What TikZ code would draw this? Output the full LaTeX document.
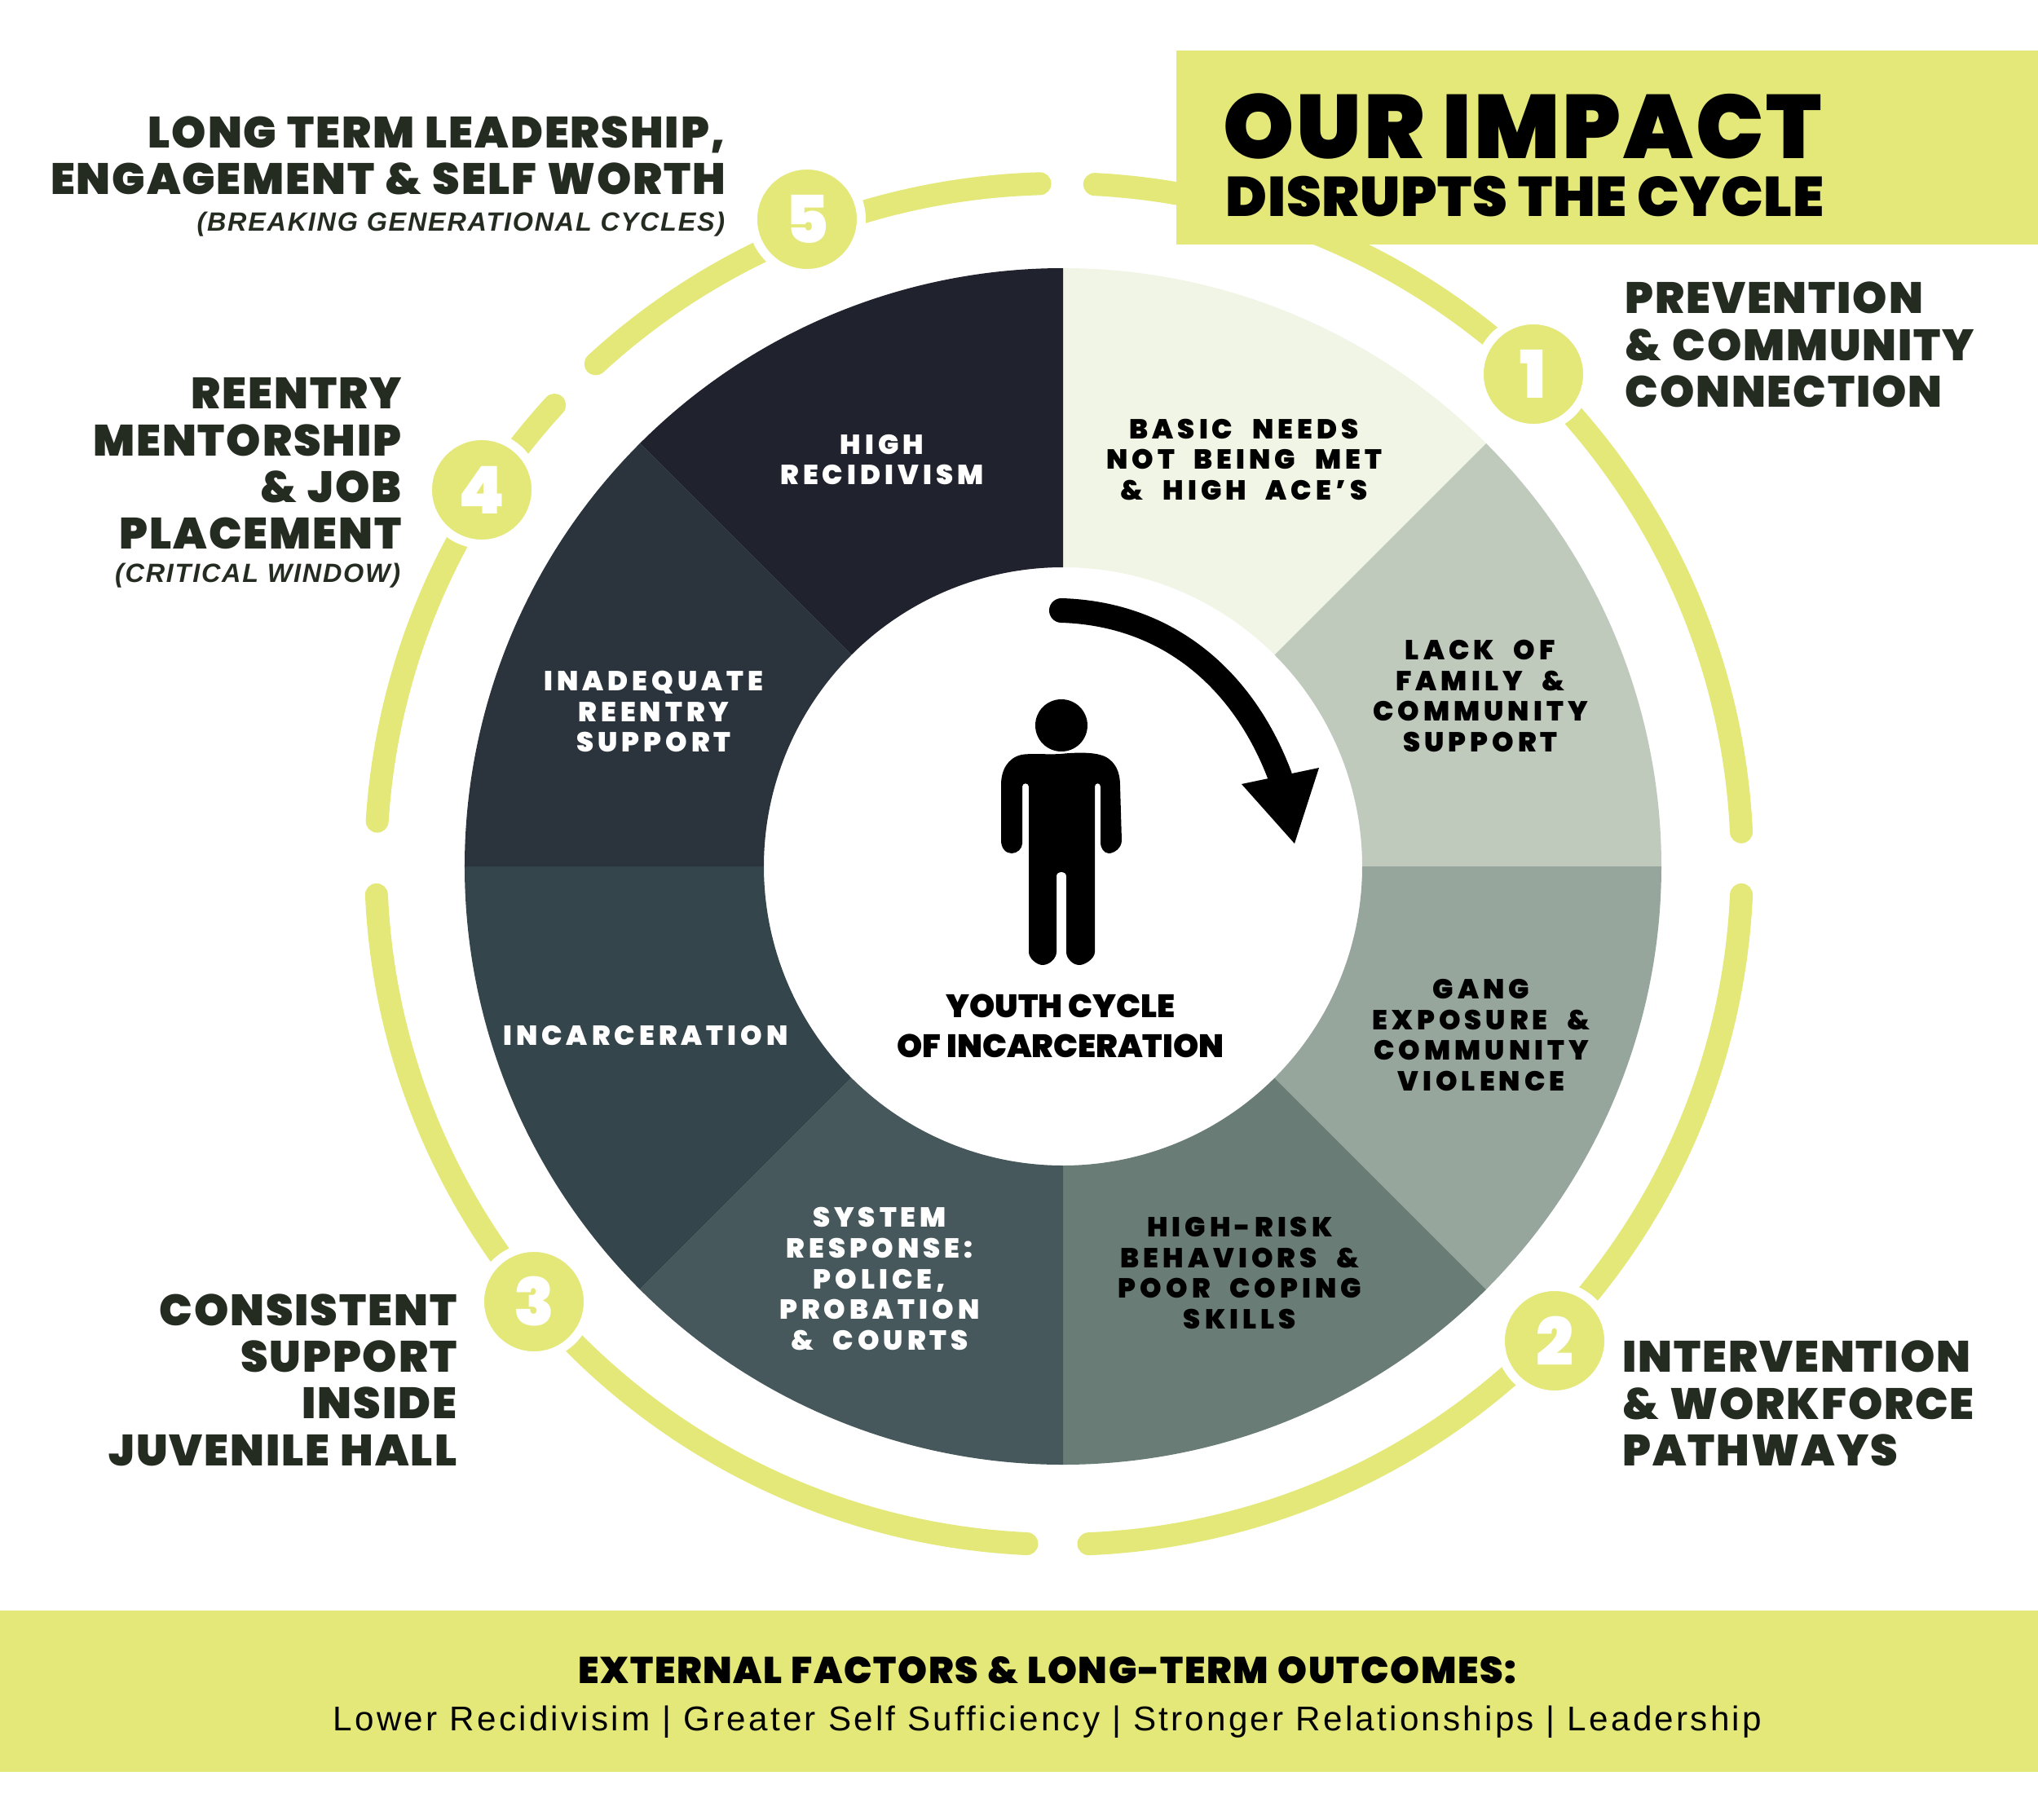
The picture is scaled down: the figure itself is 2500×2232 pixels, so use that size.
\documentclass[tikz,border=0pt]{standalone}
\usepackage{fontspec}
\setmainfont{Liberation Sans}
\newfontfamily\heavyfont{Poppins}[UprightFont=* Black]
\newfontfamily\titlefont{Poppins}[UprightFont=* Black,LetterSpace=2.7]
\newfontfamily\subtitlefont{Poppins}[UprightFont=* Black,LetterSpace=1.1]
\newfontfamily\steplabelfont{Poppins}[UprightFont=* Black,LetterSpace=3.5,WordSpace=1.2]
\newfontfamily\seglabelfont{Poppins}[UprightFont=* Black,LetterSpace=15,WordSpace=2.2]
\newfontfamily\notefont{Liberation Sans}[LetterSpace=5.5]
\newfontfamily\resultfont{Liberation Sans}[LetterSpace=7.7]
\definecolor{lime}{HTML}{E4E879}
\definecolor{ink}{HTML}{242B20}
\definecolor{segone}{HTML}{F1F5E6}
\definecolor{segtwo}{HTML}{BFCABD}
\definecolor{segthree}{HTML}{96A69C}
\definecolor{segfour}{HTML}{6A7C76}
\definecolor{segfive}{HTML}{46585C}
\definecolor{segsix}{HTML}{35454C}
\definecolor{segseven}{HTML}{2B343D}
\definecolor{segeight}{HTML}{20232E}
\tikzset{
  ringarc/.style={draw=lime,line width=0.28cm,line cap=round},
  badge/.style={circle,fill=lime,draw=white,line width=0.11cm,minimum size=1.33cm,inner sep=0pt,
    text=white,font=\heavyfont\fontsize{23}{23}\selectfont},
  seglabel/.style={align=center,inner sep=0pt,font=\seglabelfont\fontsize{9.6}{10.7}\selectfont},
  steplabel/.style={inner sep=0pt,text=ink,font=\steplabelfont\fontsize{15.3}{16.3}\selectfont},
  noteitalic/.style={inner sep=0pt,text=ink,anchor=east,font=\notefont\bfseries\itshape\fontsize{9.2}{11}\selectfont},
}
\begin{document}
\begin{tikzpicture}[x=0.01cm,y=0.01cm] % 1 unit = 1 pixel, origin at the wheel centre

% --------- PARAMETERS ----------
\def\rin{367}     % inner radius of the wheel
\def\rout{734}    % outer radius of the wheel
\def\rringx{838}  % radii of the yellow ring
\def\rringy{835}
% --------------------------------
\useasboundingbox (-1304,-1169) rectangle (1196,1063);

% Wheel
\foreach \a/\c in {90/segone,45/segtwo,0/segthree,-45/segfour,-90/segfive,-135/segsix,-180/segseven,-225/segeight}{
  \pgfmathsetmacro\b{\a-45}
  \fill[\c] (\a:\rout) arc[start angle=\a,end angle=\b,radius=\rout]
    -- (\b:\rin) arc[start angle=\b,end angle=\a,radius=\rin] -- cycle;
}

% Ring pieces
\begin{scope}[shift={(-5,3)}]
\foreach \a/\b in {87/2.7,-2.6/-87.5,-92.7/-177.4,176.4/137.6,132.7/91.6}{
  \draw[ringarc] (\a:{\rringx} and {\rringy}) arc[start angle=\a,end angle=\b,x radius=\rringx,y radius=\rringy];
}
\end{scope}

% Title and bottom bands
\fill[lime] (139,763) rectangle (1196,1001);
\fill[lime] (-1304,-913) rectangle (1196,-1111);

\node[anchor=west,inner sep=0pt,font=\titlefont\fontsize{31.5}{31.5}\selectfont] (title) at (196,908) {OUR IMPACT};
\node[anchor=west,inner sep=0pt,font=\subtitlefont\fontsize{19.5}{19.5}\selectfont] (subtitle) at (199,822) {DISRUPTS THE CYCLE};
\node[inner sep=0pt,font=\steplabelfont\fontsize{13}{13}\selectfont] (outcomes) at (-19,-986) {EXTERNAL FACTORS \& LONG-TERM OUTCOMES:};
\node[inner sep=0pt,font=\resultfont\fontsize{12}{12}\selectfont] (results) at (-19,-1050) {Lower Recidivisim | Greater Self Sufficiency | Stronger Relationships | Leadership};

% Numbered badges
\node[badge] (one) at (577,604) {1};
\node[badge] (two) at (603,-582) {2};
\node[badge] (three) at (-649,-534) {3};
\node[badge] (four) at (-713,462) {4};
\node[badge] (five) at (-314,794) {5};

% Step labels
\node[steplabel,anchor=west,align=left] (stepone) at (689,640) {PREVENTION\\\& COMMUNITY\\CONNECTION};
\node[steplabel,anchor=west,align=left] (steptwo) at (686,-659) {INTERVENTION\\\& WORKFORCE\\PATHWAYS};
\node[steplabel,anchor=east,align=right] (stepthree) at (-743,-630) {CONSISTENT\\SUPPORT\\INSIDE\\JUVENILE HALL};
\node[steplabel,anchor=east,align=right] (stepfour) at (-811,494) {REENTRY\\MENTORSHIP\\\& JOB\\PLACEMENT};
\node[noteitalic] (notefour) at (-812,357) {(CRITICAL WINDOW)};
\node[steplabel,anchor=east,align=right] (stepfive) at (-413,872) {LONG TERM LEADERSHIP,\\ENGAGEMENT \& SELF WORTH};
\node[noteitalic] (notefive) at (-414,788) {(BREAKING GENERATIONAL CYCLES)};

% Wheel labels
\node[seglabel] (needs) at (222,499) {BASIC NEEDS\\NOT BEING MET\\\& HIGH ACE’S};
\node[seglabel] (family) at (512,209) {LACK OF\\FAMILY \&\\COMMUNITY\\SUPPORT};
\node[seglabel] (gang) at (513,-207) {GANG\\EXPOSURE \&\\COMMUNITY\\VIOLENCE};
\node[seglabel] (risk) at (217,-499) {HIGH-RISK\\BEHAVIORS \&\\POOR COPING\\SKILLS};
\node[seglabel,text=white] (system) at (-225,-506) {SYSTEM\\RESPONSE:\\POLICE,\\PROBATION\\\& COURTS};
\node[seglabel,text=white] (prison) at (-512,-207) {INCARCERATION};
\node[seglabel,text=white] (reentry) at (-502,190) {INADEQUATE\\REENTRY\\SUPPORT};
\node[seglabel,text=white] (recid) at (-222,499) {HIGH\\RECIDIVISM};

% Centre
\node[align=center,inner sep=0pt,font=\heavyfont\fontsize{11.3}{14}\selectfont] (youth) at (-3,-196) {YOUTH CYCLE\\OF INCARCERATION};

% Person
\fill (-2,173) circle[radius=32];
\fill (-3,138) .. controls (15,140) and (35,140) .. (45,137) .. controls (62,133) and (70,118) .. (70,100)
  -- (72,32) .. controls (72,22) and (62,16) .. (56,16) .. controls (50,16) and (46,24) .. (46,28)
  -- (46,98) .. controls (46,103) and (39,103) .. (39,98)
  -- (39,-105) .. controls (39,-113) and (27,-121) .. (20,-121) .. controls (12,-121) and (4,-113) .. (4,-105)
  -- (4,-12) .. controls (4,-5) and (-8,-5) .. (-8,-12)
  -- (-8,-105) .. controls (-8,-113) and (-17,-121) .. (-25,-121) .. controls (-32,-121) and (-42,-113) .. (-42,-105)
  -- (-42,98) .. controls (-42,103) and (-50,103) .. (-50,98)
  -- (-50,28) .. controls (-50,22) and (-56,16) .. (-63,16) .. controls (-70,16) and (-76,22) .. (-76,32)
  -- (-76,100) .. controls (-76,118) and (-68,133) .. (-51,137) .. controls (-40,139) and (-20,137) .. (-3,138) -- cycle;

% Cycle arrow
\draw[line width=0.30cm,line cap=round] (-2,314) .. controls (130,310) and (222,228) .. (266,111);
\fill (219,101) -- (314,121) -- (284,28) -- cycle;

\end{tikzpicture}
\end{document}
